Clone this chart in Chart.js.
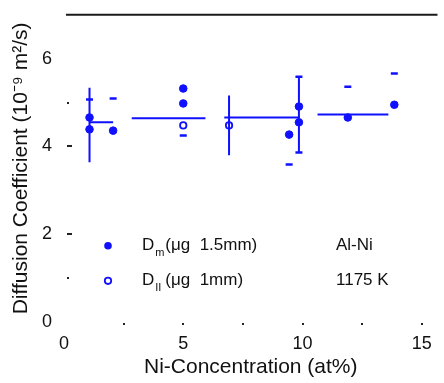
<!DOCTYPE html>
<html>
<head>
<meta charset="utf-8">
<script src="https://cdn.jsdelivr.net/npm/chart.js@4/dist/chart.umd.min.js"></script>
<style>
  html, body { margin: 0; padding: 0; background: #fff; overflow: hidden; }
  #wrap { width: 444px; height: 383px; position: relative; }
</style>
</head>
<body>
<div id="wrap"><canvas id="c"></canvas></div>
<script>
// Ni concentration (at%) and diffusion coefficient (10^-9 m^2/s)
const dmConc  = [1.07, 1.07, 2.06, 5.0, 5.0, 9.44, 9.85, 9.85, 11.9, 13.85];
const dmCoef  = [4.66, 4.39, 4.36, 5.32, 4.98, 4.27, 4.91, 4.55, 4.66, 4.95];
const diiConc = [5.0, 6.92];
const diiCoef = [4.48, 4.48];
// error-bar caps
const capConc = [1.07, 2.06, 5.0, 9.44, 11.9, 13.85, 9.85, 9.85];
const capCoef = [5.07, 5.09, 4.25, 3.59, 5.36, 5.66, 5.59, 3.86];
// vertical error bars
const barConc = [1.07, 6.92, 9.85];
const barLow  = [3.64, 3.80, 3.86];
const barHigh = [5.34, 5.16, 5.59];
// mean values over concentration ranges
const meanFrom = [1.07, 2.84, 6.72, 10.63];
const meanTo   = [2.06, 5.93, 9.85, 13.6];
const meanCoef = [4.55, 4.64, 4.66, 4.73];
// axes
const xTicks = [0, 5, 10, 15];
const yTicks = [0, 2, 4, 6];
const xMarks = [2.5, 5, 7.5, 10, 12.5, 15];
const yMarks = [1, 2, 4, 5];

const BLUE = '#1010ff';
const FONT = "'Liberation Sans', Arial, sans-serif";

const zip = (xs, ys) => xs.map((x, i) => ({ x: x, y: ys[i] }));

const datasets = [];
meanFrom.forEach((f, i) => {
  datasets.push({ type: 'line', data: [{ x: f, y: meanCoef[i] }, { x: meanTo[i], y: meanCoef[i] }],
    borderColor: BLUE, borderWidth: 2, pointRadius: 0, showLine: true });
});
barConc.forEach((c, i) => {
  datasets.push({ type: 'line', data: [{ x: c, y: barLow[i] }, { x: c, y: barHigh[i] }],
    borderColor: BLUE, borderWidth: 2, pointRadius: 0, showLine: true });
});
datasets.push({ type: 'scatter', data: zip(capConc, capCoef), pointStyle: 'line',
  pointRadius: 3.5, borderColor: BLUE, borderWidth: 2.5 });
datasets.push({ type: 'scatter', data: zip(dmConc, dmCoef), pointStyle: 'circle',
  pointRadius: 3.8, backgroundColor: BLUE, borderColor: BLUE, borderWidth: 1 });
datasets.push({ type: 'scatter', data: zip(diiConc, diiCoef), pointStyle: 'circle',
  pointRadius: 3.2, backgroundColor: '#fff', borderColor: BLUE, borderWidth: 1.8 });

const frame = {
  id: 'frame',
  afterDatasetsDraw(chart) {
    const { ctx, chartArea: a, scales: { x, y } } = chart;
    ctx.save();
    // top border
    ctx.strokeStyle = '#1a1a1a';
    ctx.lineWidth = 2;
    ctx.beginPath();
    ctx.moveTo(a.left + 2, a.top);
    ctx.lineTo(a.right, a.top);
    ctx.stroke();
    // inward tick marks
    ctx.fillStyle = '#222';
    yMarks.forEach(v => {
      const py = Math.round(y.getPixelForValue(v));
      const len = v % 2 === 0 ? 5 : 2;
      ctx.fillRect(a.left + 3, py - 1, len, 2);
    });
    xMarks.forEach(v => {
      const px = Math.round(x.getPixelForValue(v));
      ctx.fillRect(px - 1, a.bottom + 1, 2, 2);
    });

    // legend
    const lx = a.left + 44, tx = a.left + 78;
    const rows = [a.top + 231, a.top + 266];
    ctx.fillStyle = BLUE; ctx.strokeStyle = BLUE;
    ctx.beginPath(); ctx.arc(lx, rows[0], 3.8, 0, Math.PI * 2); ctx.fill();
    ctx.lineWidth = 1.8;
    ctx.beginPath(); ctx.arc(lx, rows[1], 3.2, 0, Math.PI * 2);
    ctx.fillStyle = '#fff'; ctx.fill(); ctx.stroke();

    ctx.fillStyle = '#111';
    ctx.textBaseline = 'middle';
    ctx.textAlign = 'left';
    const label = (row, sub, rest) => {
      ctx.font = '17px ' + FONT;
      ctx.fillText('D', tx, row);
      const w = ctx.measureText('D').width;
      ctx.font = '11px ' + FONT;
      ctx.fillText(sub, tx + w + 1, row + 7);
      ctx.font = '17px ' + FONT;
      ctx.fillText(rest, tx + w + 11, row);
    };
    label(rows[0], 'm', '(μg  1.5mm)');
    label(rows[1], 'II', '(μg  1mm)');
    ctx.font = '17px ' + FONT;
    ctx.fillText('Al-Ni', a.left + 272, rows[0]);
    ctx.fillText('1175 K', a.left + 272, rows[1]);
    ctx.restore();
  }
};

new Chart(document.getElementById('c'), {
  data: { datasets: datasets },
  options: {
    responsive: true,
    maintainAspectRatio: false,
    animation: false,
    layout: { padding: { top: 14, right: 0, left: 0, bottom: 0 } },
    plugins: { legend: { display: false }, tooltip: { enabled: false } },
    scales: {
      x: {
        type: 'linear', min: 0, max: 15.66,
        grid: { display: false }, border: { display: false },
        afterBuildTicks: s => { s.ticks = xTicks.map(v => ({ value: v })); },
        afterFit: s => { s.height = 61; },
        ticks: { color: '#111', font: { family: FONT, size: 18 }, padding: 3, maxRotation: 0 },
        title: { display: true, text: 'Ni-Concentration (at%)', color: '#111',
          font: { family: FONT, size: 21 }, padding: { top: 2, bottom: 3 } }
      },
      y: {
        type: 'linear', min: 0, max: 7,
        grid: { display: false }, border: { display: false },
        afterBuildTicks: s => { s.ticks = yTicks.map(v => ({ value: v })); },
        afterFit: s => { s.width = 64; },
        ticks: { color: '#111', font: { family: FONT, size: 18 }, padding: 4 },
        title: { display: true, text: 'Diffusion Coefficient (10⁻⁹ m²/s)', color: '#111',
          font: { family: FONT, size: 21 }, padding: { top: 9, bottom: 0 } }
      }
    }
  },
  plugins: [frame]
});
</script>
</body>
</html>
